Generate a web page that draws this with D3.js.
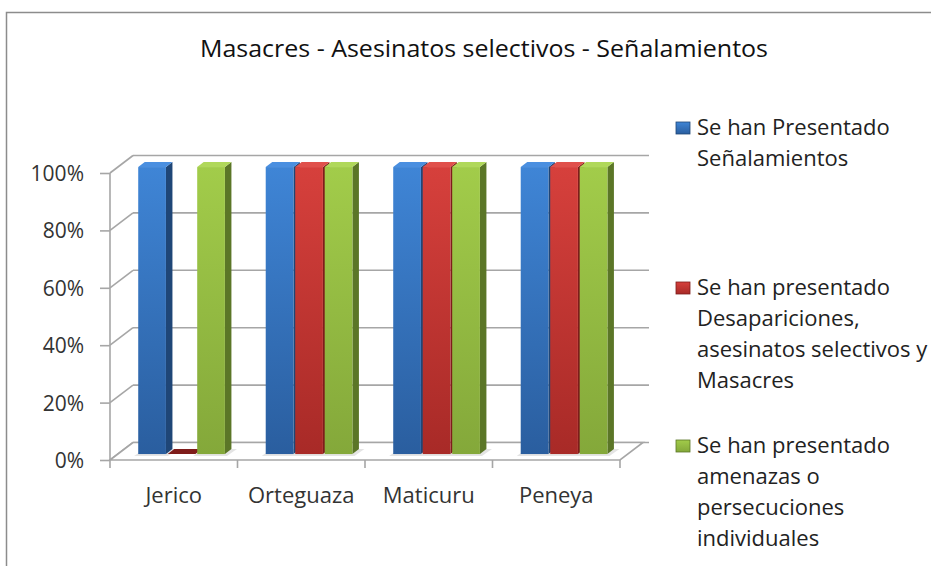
<!DOCTYPE html>
<html>
<head>
<meta charset="utf-8">
<script src="https://cdn.jsdelivr.net/npm/d3@7"></script>
<style>
  body { margin: 0; background: #fff; }
  svg { display: block; font-family: 'Open Sans', sans-serif; }
</style>
</head>
<body>
<div class="chart"></div>
<script>
const categories = ['Jerico', 'Orteguaza', 'Maticuru', 'Peneya'];
const seriesKeys = ['senal', 'desap', 'amen'];
const senal = [1, 1, 1, 1];
const desap = [0, 1, 1, 1];
const amen = [1, 1, 1, 1];
const yTicks = [0, 0.2, 0.4, 0.6, 0.8, 1];
const title = 'Masacres - Asesinatos selectivos - Señalamientos';
const legendLines = [
  ['Se han Presentado', 'Señalamientos'],
  ['Se han presentado', 'Desapariciones,', 'asesinatos selectivos y', 'Masacres'],
  ['Se han presentado', 'amenazas o', 'persecuciones', 'individuales']
];
const legendTop = [135, 295, 453];

const values = {senal, desap, amen};
const colors = {
  senal: {light: '#3f85d6', dark: '#2a5e9f', side: '#1f4677', top: '#4a8fe0'},
  desap: {light: '#d6403c', dark: '#a82a27', side: '#7e1c1a', top: '#e0504b'},
  amen:  {light: '#a2cc4a', dark: '#84a83a', side: '#5b7627', top: '#b0d85a'}
};

const width = 931;
const height = 566;
const depth = {dx: 23, dy: -17.5};
const barDepth = 0.34;
const barSide = {dx: 6.5, dy: -5};
const grid = '#a6a6a6';

function drawChart() {
  const svg = d3.select('.chart')
                .append('svg:svg')
                .attr('width', width)
                .attr('height', height);

  const defs = svg.append('defs');
  seriesKeys.forEach(k => {
    const g = defs.append('linearGradient')
                  .attr('id', 'g-' + k)
                  .attr('x1', 0).attr('y1', 0).attr('x2', 0).attr('y2', 1);
    g.append('stop').attr('offset', '0%').attr('stop-color', colors[k].light);
    g.append('stop').attr('offset', '100%').attr('stop-color', colors[k].dark);
  });

  // frame
  svg.append('rect')
     .attr('x', 6.5).attr('y', 12.5)
     .attr('width', 2000).attr('height', 2000)
     .attr('fill', 'none')
     .attr('stroke', '#8c8c8c')
     .attr('stroke-width', 1.5);

  svg.append('text')
     .attr('x', 200).attr('y', 57)
     .attr('font-size', 23)
     .attr('fill', '#111')
     .attr('textLength', 568)
     .attr('lengthAdjust', 'spacingAndGlyphs')
     .text(title);

  const x0 = d3.scaleBand()
               .domain(categories)
               .range([110, 620]);

  const y = d3.scaleLinear()
              .domain([0, 1])
              .range([460, 173]);

  const groupW = x0.bandwidth() * 0.68;
  const x1 = d3.scaleBand()
               .domain(seriesKeys)
               .range([0, groupW])
               .paddingInner(0.06);

  const line = d3.line();
  const poly = pts => line(pts) + 'Z';

  // back wall gridlines
  svg.append('g')
     .selectAll('line')
     .data(yTicks)
     .join('line')
     .attr('x1', x0.range()[0] + depth.dx)
     .attr('x2', 649)
     .attr('y1', d => y(d) + depth.dy)
     .attr('y2', d => y(d) + depth.dy)
     .attr('stroke', grid)
     .attr('stroke-width', 1.6);

  // side wall diagonals
  svg.append('g')
     .selectAll('line')
     .data(yTicks)
     .join('line')
     .attr('x1', 110)
     .attr('x2', 110 + depth.dx)
     .attr('y1', d => y(d))
     .attr('y2', d => y(d) + depth.dy)
     .attr('stroke', grid)
     .attr('stroke-width', 1.6);

  // floor
  const [fx0, fx1] = x0.range();
  svg.append('path')
     .attr('d', poly([[fx0, y(0)], [fx1, y(0)], [fx1 + depth.dx, y(0) + depth.dy], [fx0 + depth.dx, y(0) + depth.dy]]))
     .attr('fill', '#fff')
     .attr('stroke', grid)
     .attr('stroke-width', 1.6);

  // axes
  const yAxis = g => g
    .attr('transform', 'translate(110,0)')
    .call(d3.axisLeft(y).tickValues(yTicks).tickFormat(d3.format('.0%')).tickSize(10).tickPadding(16))
    .call(g => g.selectAll('line, path').attr('stroke', grid).attr('stroke-width', 1.6))
    .call(g => g.select('.domain').attr('d', `M0,${y(1)}V${y(0)}`))
    .call(g => g.selectAll('text').attr('font-size', 21).attr('fill', '#333').attr('font-family', 'Open Sans').attr('dy', '0.36em'));

  const xAxis = g => g
    .attr('transform', `translate(0,${y(0)})`)
    .call(d3.axisBottom(x0).tickSize(0).tickPadding(27))
    .call(g => g.select('.domain').remove())
    .call(g => g.selectAll('text').attr('font-size', 22).attr('fill', '#333').attr('font-family', 'Open Sans'));

  svg.append('g').call(yAxis);
  svg.append('g').call(xAxis);

  // category ticks under floor
  svg.append('g')
     .selectAll('line')
     .data(categories.map(c => x0(c)).concat([fx1]))
     .join('line')
     .attr('x1', d => d).attr('x2', d => d)
     .attr('y1', y(0)).attr('y2', y(0) + 8)
     .attr('stroke', grid)
     .attr('stroke-width', 1.6);

  // bars
  const ox = depth.dx * barDepth;
  const oy = depth.dy * barDepth;
  const bars = [];
  categories.forEach((c, i) => {
    seriesKeys.forEach(k => {
      const xl = x0(c) + (x0.bandwidth() - groupW) / 2 + x1(k) + ox;
      bars.push({c, k, v: values[k][i], xl, xr: xl + x1.bandwidth(), yb: y(0) + oy, yt: y(values[k][i]) + oy});
    });
  });

  // floor shadows
  svg.append('g')
     .selectAll('path')
     .data(bars.filter(d => d.v > 0))
     .join('path')
     .attr('d', d => poly([[d.xl - 4, d.yb + 2], [d.xr + 2, d.yb + 2], [d.xr + 12, d.yb - 5], [d.xl + 6, d.yb - 5]]))
     .attr('fill', '#e4e4e4');

  const bg = svg.append('g')
                .selectAll('g')
                .data(bars)
                .join('g');

  bg.append('path')
    .attr('d', d => poly([[d.xr, d.yt], [d.xr + barSide.dx, d.yt + barSide.dy], [d.xr + barSide.dx, d.yb + barSide.dy], [d.xr, d.yb]]))
    .attr('fill', d => colors[d.k].side);

  bg.append('path')
    .attr('d', d => poly([[d.xl, d.yt], [d.xl + barSide.dx, d.yt + barSide.dy], [d.xr + barSide.dx, d.yt + barSide.dy], [d.xr, d.yt]]))
    .attr('fill', d => d.v > 0 ? colors[d.k].top : colors[d.k].side);

  bg.filter(d => d.v > 0)
    .append('rect')
    .attr('x', d => d.xl)
    .attr('y', d => d.yt)
    .attr('width', d => d.xr - d.xl)
    .attr('height', d => d.yb - d.yt)
    .attr('fill', d => `url(#g-${d.k})`);

  // legend
  const lg = svg.append('g')
                .selectAll('g')
                .data(seriesKeys)
                .join('g')
                .attr('transform', (d, i) => `translate(676,${legendTop[i]})`);

  lg.append('rect')
    .attr('x', 0).attr('y', -13)
    .attr('width', 14).attr('height', 12)
    .attr('fill', d => `url(#g-${d})`)
    .attr('stroke', d => colors[d].side)
    .attr('stroke-width', 0.8);

  lg.append('text')
    .attr('font-size', 22)
    .attr('fill', '#222')
    .selectAll('tspan')
    .data((d, i) => legendLines[i])
    .join('tspan')
    .attr('x', 21)
    .attr('y', (d, j) => j * 31)
    .text(d => d);
}

drawChart();
</script>
</body>
</html>
